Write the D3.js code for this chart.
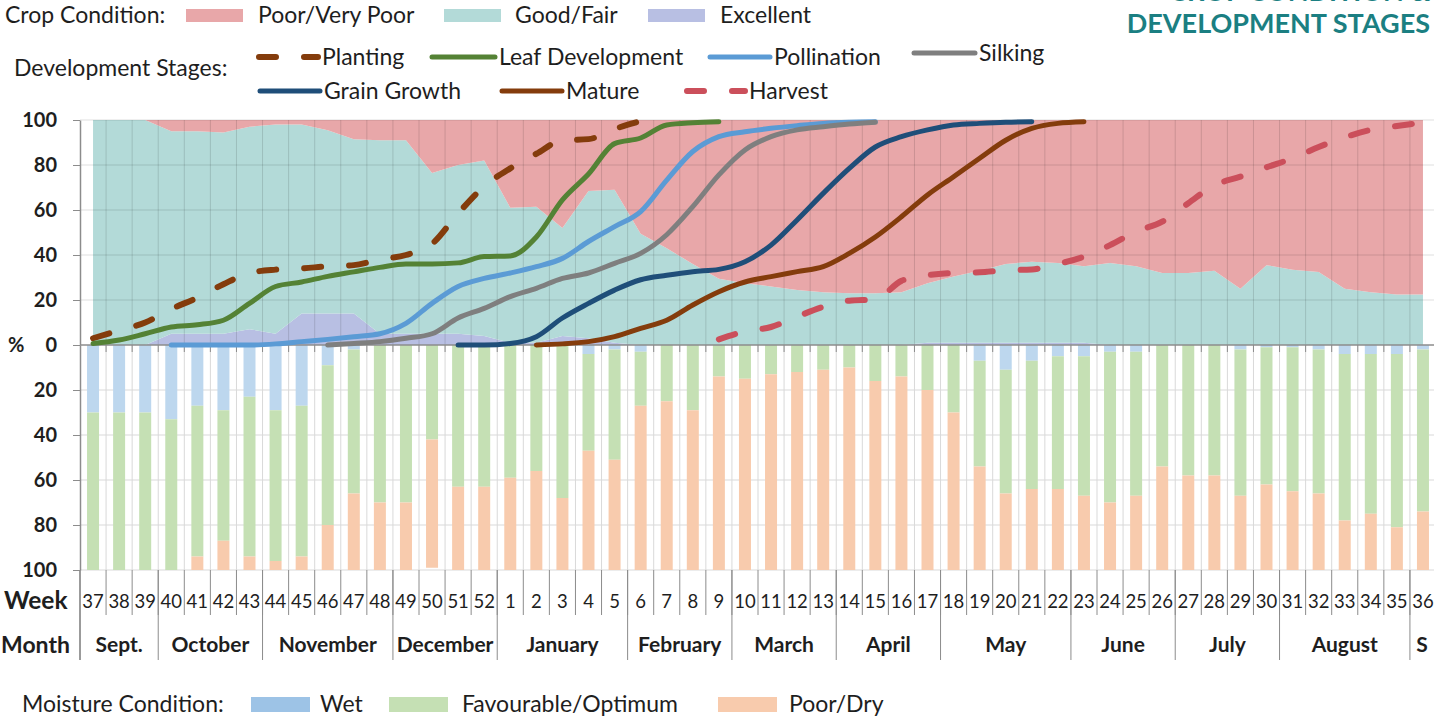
<!DOCTYPE html>
<html>
<head>
<meta charset="utf-8">
<script src="https://cdn.jsdelivr.net/npm/d3@7"></script>
<style>
  body { margin: 0; background: #fff; }
  svg text { font-family: Lato, "Open Sans", sans-serif; fill: #1e1e1e; }
</style>
</head>
<body>
<div id="chart"></div>
<script>
// Weeks (categories) and months
const weeks = ["37","38","39","40","41","42","43","44","45","46","47","48","49","50","51","52",
    "1","2","3","4","5","6","7","8","9","10","11","12","13","14","15","16","17","18",
    "19","20","21","22","23","24","25","26","27","28","29","30","31","32","33","34","35","36"];
const months = ["Sept.","October","November","December","January","February","March","April","May","June","July","August","S"];
const monthWeeks = [3, 4, 5, 4, 5, 4, 4, 4, 5, 4, 4, 5, 1];

// Crop condition, % (upper panel)
const cropExcellent = [0,0,0,5,5,5,7,5,14,14,14,5,5,5,5,4,
    1,1,4,3,1,0,0,0,0,0,0,0,0,0,0,0,1,1,
    1,1,1,1,1,0,0,0,0,0,0,0,0,0,0,0,0,0];
const cropGood = [100,100,100,90,90,89.5,90,93,84,81.5,77.5,86,86,71.5,75,78,
    60,60.5,48,65.5,68,49.5,43,36,29.5,27.5,26,24.5,23.5,23,23,23.5,26.5,29.5,
    32,35,36,35.5,34,36.5,35,32,32,33,25,35.5,33.5,32.5,25,23.5,22.5,22.5];
const cropPoor = [0,0,0,5,5,5.5,3,2,2,4.5,8.5,9,9,23.5,20,18,
    39,38.5,48,31.5,31,50.5,57,64,70.5,72.5,74,75.5,76.5,77,77,76.5,72.5,69.5,
    67,64,63,63.5,65,63.5,65,68,68,67,75,64.5,66.5,67.5,75,76.5,77.5,77.5];

// Moisture condition, % (lower panel)
const moistureWet = [30,30,30,33,27,29,23,29,27,9,2,0,0,0,0,0,
    0,0,0,4,2,3,0,0,0,0,0,0,0,0,0,0,0,0,
    7,11,7,5,5,3,3,0,0,0,2,1,1,2,4,4,4,2];
const moistureFav = [70,70,70,67,67,58,71,67,67,71,64,70,70,42,63,63,
    59,56,68,43,49,24,25,29,14,15,13,12,11,10,16,14,20,30,
    47,55,57,59,62,67,64,54,58,58,65,61,64,64,74,71,77,72];
const moistureDry = [0,0,0,0,6,13,6,4,6,20,34,30,30,57,37,37,
    41,44,32,53,49,73,75,71,86,85,87,88,89,90,84,86,80,70,
    46,34,36,36,33,30,33,46,42,42,33,38,35,34,22,25,19,26];

// Development stages, cumulative %
const _ = null;
const planting = [3,6.5,10,16,21,27,32,33.5,34,35,35.5,38,40,45,58.5,70.5,
    78.5,85,91,91.5,96,99.5,_,_,_,_,_,_,_,_,_,_,_,_,
    _,_,_,_,_,_,_,_,_,_,_,_,_,_,_,_,_,_];
const leafDev = [0.7,2.2,5,8,9,11,18.5,26,28,30.5,32.5,34.5,36,36,36.5,39.3,
    39.6,48,64.5,76,89.5,92,97.8,98.8,99.2,_,_,_,_,_,_,_,_,_,
    _,_,_,_,_,_,_,_,_,_,_,_,_,_,_,_,_,_];
const pollination = [_,_,_,0,0,0,0,0.5,1.5,2.5,3.7,5,9.6,18.5,26,
    29.6,32,34.8,38.5,46,52.6,59.3,73.3,86,92.6,94.8,96.3,97.5,98.5,99,99.2,_,_,
    _,_,_,_,_,_,_,_,_,_,_,_,_,_,_,_,_,_,_];
const silking = [_,_,_,_,_,_,_,_,_,0,0.7,1.5,3,5,12,16.3,
    21.5,25.2,29.6,32,36.3,40.7,49,61.5,75.6,86.7,92.6,95.6,97,98.2,99,_,_,_,
    _,_,_,_,_,_,_,_,_,_,_,_,_,_,_,_,_,_];
const grainGrowth = [_,_,_,_,_,_,_,_,_,_,_,_,_,_,0,0,
    0.7,3.7,12,18.5,24.4,29,31,32.6,33.6,37,44.4,55.6,67.4,78.5,88,92.6,95.6,97.8,
    98.5,99,99.2,_,_,_,_,_,_,_,_,_,_,_,_,_,_,_];
const mature = [_,_,_,_,_,_,_,_,_,_,_,_,_,_,_,_,
    _,0,0.5,1.5,3.7,7.4,11,17.8,23.7,28,30.4,32.6,34.8,40.7,48,57,66.7,74.8,
    83,91,96.3,98.5,99.2,_,_,_,_,_,_,_,_,_,_,_,_,_];
const harvest = [_,_,_,_,_,_,_,_,_,_,_,_,_,_,_,_,
    _,_,_,_,_,_,_,_,2.5,6,8,12.6,17,19.7,20.3,28.5,31,32,
    32.3,33.2,33.6,36,39.3,44.4,50.4,54.8,63,71,74.8,79,83,88,92.3,95.6,97.3,98.8];

const stages = [
    { name: "Planting", values: planting, color: "#843c0c", dash: true },
    { name: "Leaf Development", values: leafDev, color: "#548235" },
    { name: "Pollination", values: pollination, color: "#5b9bd5" },
    { name: "Silking", values: silking, color: "#7f7f7f" },
    { name: "Grain Growth", values: grainGrowth, color: "#1f4e79" },
    { name: "Mature", values: mature, color: "#843c0c" },
    { name: "Harvest", values: harvest, color: "#cb4f5b", dash: true }
];

const cropColors = { excellent: "#b8bfe3", good: "#b3dad8", poor: "#e8a7a9" };
const moistColors = { wet: "#bdd7ee", fav: "#c5e0b4", dry: "#f8cbad" };

const width = 1434, height = 719;
const svg = d3.select("#chart").append("svg")
    .attr("width", width)
    .attr("height", height);

// Scales
const x = d3.scaleBand().domain(weeks).range([80, 1436]);
const xc = w => x(w) + x.bandwidth() / 2;
const xBar = x.copy().paddingInner(0.54).paddingOuter(0.27);
const yUp = d3.scaleLinear().domain([0, 100]).range([345, 120]);
const yDown = d3.scaleLinear().domain([0, 100]).range([345, 570]);
const bounds = weeks.slice(1).map(w => x(w)).concat([1436]);

// Upper panel: crop condition stacked area
const cropRows = weeks.map((w, i) => ({ week: w, excellent: cropExcellent[i], good: cropGood[i], poor: cropPoor[i] }));
const cropStack = d3.stack().keys(["excellent", "good", "poor"])(cropRows);
const area = d3.area()
    .x(d => xc(d.data.week))
    .y0(d => yUp(d[0]))
    .y1(d => yUp(d[1]));
svg.append("g").selectAll("path")
    .data(cropStack)
    .join("path")
    .attr("d", area)
    .attr("fill", d => cropColors[d.key]);

// Upper gridlines (drawn over the area)
const gUp = svg.append("g").attr("stroke", "#000").attr("stroke-opacity", 0.13);
[20, 40, 60, 80, 100].forEach(v => {
    gUp.append("line").attr("x1", 80).attr("x2", 1436).attr("y1", yUp(v)).attr("y2", yUp(v));
});
bounds.forEach(bx => {
    gUp.append("line").attr("x1", bx).attr("x2", bx).attr("y1", yUp(100)).attr("y2", yUp(0));
});

// Lower gridlines
const gDown = svg.append("g").attr("stroke", "#d9d9d9");
[20, 40, 60, 80, 100].forEach(v => {
    gDown.append("line").attr("x1", 80).attr("x2", 1436).attr("y1", yDown(v)).attr("y2", yDown(v));
});
bounds.forEach(bx => {
    gDown.append("line").attr("x1", bx).attr("x2", bx).attr("y1", yDown(0)).attr("y2", yDown(100));
});

// Lower panel: moisture stacked bars
const moistRows = weeks.map((w, i) => ({ week: w, wet: moistureWet[i], fav: moistureFav[i], dry: moistureDry[i] }));
const moistStack = d3.stack().keys(["wet", "fav", "dry"])(moistRows);
svg.append("g").selectAll("g")
    .data(moistStack)
    .join("g")
    .attr("fill", d => moistColors[d.key])
    .selectAll("rect")
    .data(d => d)
    .join("rect")
    .attr("x", d => xBar(d.data.week))
    .attr("width", xBar.bandwidth())
    .attr("y", d => yDown(d[0]))
    .attr("height", d => yDown(d[1]) - yDown(d[0]));

// Zero line, tick marks and table separators
const gTicks = svg.append("g").attr("stroke", "#8c8c8c");
gTicks.append("line").attr("x1", 80).attr("x2", 1436).attr("y1", 345).attr("y2", 345).attr("stroke-width", 1.5);
bounds.forEach(bx => {
    gTicks.append("line").attr("x1", bx).attr("x2", bx).attr("y1", 345).attr("y2", 352);
    gTicks.append("line").attr("x1", bx).attr("x2", bx).attr("y1", 570).attr("y2", 615);
});
let acc = 0;
const monthBounds = [x(weeks[0])];
monthWeeks.forEach(n => {
    acc += n;
    monthBounds.push(acc < weeks.length ? x(weeks[acc]) : 1436);
});
monthBounds.forEach(bx => {
    gTicks.append("line").attr("x1", bx).attr("x2", bx).attr("y1", 570).attr("y2", 660);
});

// Y axes
const axisUp = d3.axisLeft(yUp).tickValues([0, 20, 40, 60, 80, 100]).tickSize(7).tickSizeOuter(0).tickPadding(16);
const axisDown = d3.axisLeft(yDown).tickValues([20, 40, 60, 80, 100]).tickSize(7).tickSizeOuter(0).tickPadding(16);
[axisUp, axisDown].forEach(ax => {
    const g = svg.append("g").attr("transform", "translate(80,0)").call(ax);
    g.select(".domain").attr("stroke", "#8c8c8c").attr("stroke-width", 1.5);
    g.selectAll(".tick line").attr("stroke", "#8c8c8c");
    g.selectAll(".tick text")
        .style("font-family", "Lato, sans-serif")
        .style("font-size", "20px")
        .style("font-weight", "bold")
        .attr("fill", "#1b1b2a");
});
svg.append("line").attr("x1", 80).attr("x2", 80).attr("y1", 570).attr("y2", 660)
    .attr("stroke", "#8c8c8c").attr("stroke-width", 1.5);
svg.append("text").attr("x", 8).attr("y", 352)
    .style("font-size", "20px").style("font-weight", "bold").text("%");

// Development stage lines
const line = d3.line()
    .defined(d => d.v != null)
    .x(d => xc(d.week))
    .y(d => yUp(d.v))
    .curve(d3.curveMonotoneX);
svg.append("g").selectAll("path")
    .data(stages)
    .join("path")
    .attr("d", s => line(weeks.map((w, i) => ({ week: w, v: s.values[i] }))))
    .attr("fill", "none")
    .attr("stroke", s => s.color)
    .attr("stroke-width", s => s.dash ? 6 : 5)
    .attr("stroke-linecap", "round")
    .attr("stroke-dasharray", s => s.dash ? "17,28" : null);

// Week and month rows
svg.append("g").selectAll("text")
    .data(weeks)
    .join("text")
    .attr("x", d => xc(d))
    .attr("y", 608)
    .attr("text-anchor", "middle")
    .style("font-size", "18.5px")
    .text(d => d);
svg.append("g").selectAll("text")
    .data(months)
    .join("text")
    .attr("x", (d, i) => (monthBounds[i] + Math.min(monthBounds[i + 1], 1434)) / 2)
    .attr("y", 652)
    .attr("text-anchor", "middle")
    .style("font-size", "21px")
    .style("font-weight", "bold")
    .text(d => d);
svg.append("text").attr("x", 4).attr("y", 609)
    .style("font-size", "24.5px").style("font-weight", "bold").text("Week");
svg.append("text").attr("x", 1).attr("y", 653)
    .style("font-size", "23px").style("font-weight", "bold").text("Month");

// Title (top right, cut off by the top edge like the original)
svg.append("text").attr("x", 1430).attr("y", 1)
    .attr("text-anchor", "end")
    .style("font-size", "27px").style("font-weight", "bold").style("fill", "#1b7f82")
    .text("CROP CONDITION &");
svg.append("text").attr("x", 1430).attr("y", 33)
    .attr("text-anchor", "end")
    .style("font-size", "27px").style("font-weight", "bold").style("fill", "#1b7f82")
    .text("DEVELOPMENT STAGES");

// Legends
const legendFont = "23px";
svg.append("text").attr("x", 5).attr("y", 23).style("font-size", legendFont).text("Crop Condition:");
const cropLegend = [
    { label: "Poor/Very Poor", color: "#e8a7a9", sx: 186, tx: 258 },
    { label: "Good/Fair", color: "#b3dad8", sx: 444, tx: 515 },
    { label: "Excellent", color: "#b8bfe3", sx: 648, tx: 720 }
];
cropLegend.forEach(l => {
    svg.append("rect").attr("x", l.sx).attr("y", 9).attr("width", 57).attr("height", 13).attr("fill", l.color);
    svg.append("text").attr("x", l.tx).attr("y", 23).style("font-size", legendFont).text(l.label);
});

svg.append("text").attr("x", 14).attr("y", 76).style("font-size", legendFont).text("Development Stages:");
const stageLegend = [
    { i: 0, x1: 259, x2: 318, y: 57 },
    { i: 1, x1: 432, x2: 495, y: 57 },
    { i: 2, x1: 710, x2: 770, y: 57 },
    { i: 3, x1: 914, x2: 975, y: 53 },
    { i: 4, x1: 260, x2: 320, y: 91 },
    { i: 5, x1: 502, x2: 562, y: 91 },
    { i: 6, x1: 687, x2: 745, y: 91 }
];
stageLegend.forEach(l => {
    const s = stages[l.i];
    svg.append("line")
        .attr("x1", l.x1).attr("x2", l.x2).attr("y1", l.y).attr("y2", l.y)
        .attr("stroke", s.color)
        .attr("stroke-width", s.dash ? 6 : 5)
        .attr("stroke-linecap", "round")
        .attr("stroke-dasharray", s.dash ? "17,28" : null);
    svg.append("text").attr("x", l.x2 + 4).attr("y", l.y + 8).style("font-size", legendFont).text(s.name);
});

svg.append("text").attr("x", 22).attr("y", 712).style("font-size", legendFont).text("Moisture Condition:");
const moistLegend = [
    { label: "Wet", color: "#9dc3e6", sx: 251, tx: 320 },
    { label: "Favourable/Optimum", color: "#c5e0b4", sx: 389, tx: 462 },
    { label: "Poor/Dry", color: "#f8cbad", sx: 718, tx: 789 }
];
moistLegend.forEach(l => {
    svg.append("rect").attr("x", l.sx).attr("y", 697).attr("width", 59).attr("height", 15).attr("fill", l.color);
    svg.append("text").attr("x", l.tx).attr("y", 712).style("font-size", legendFont).text(l.label);
});
</script>
</body>
</html>
